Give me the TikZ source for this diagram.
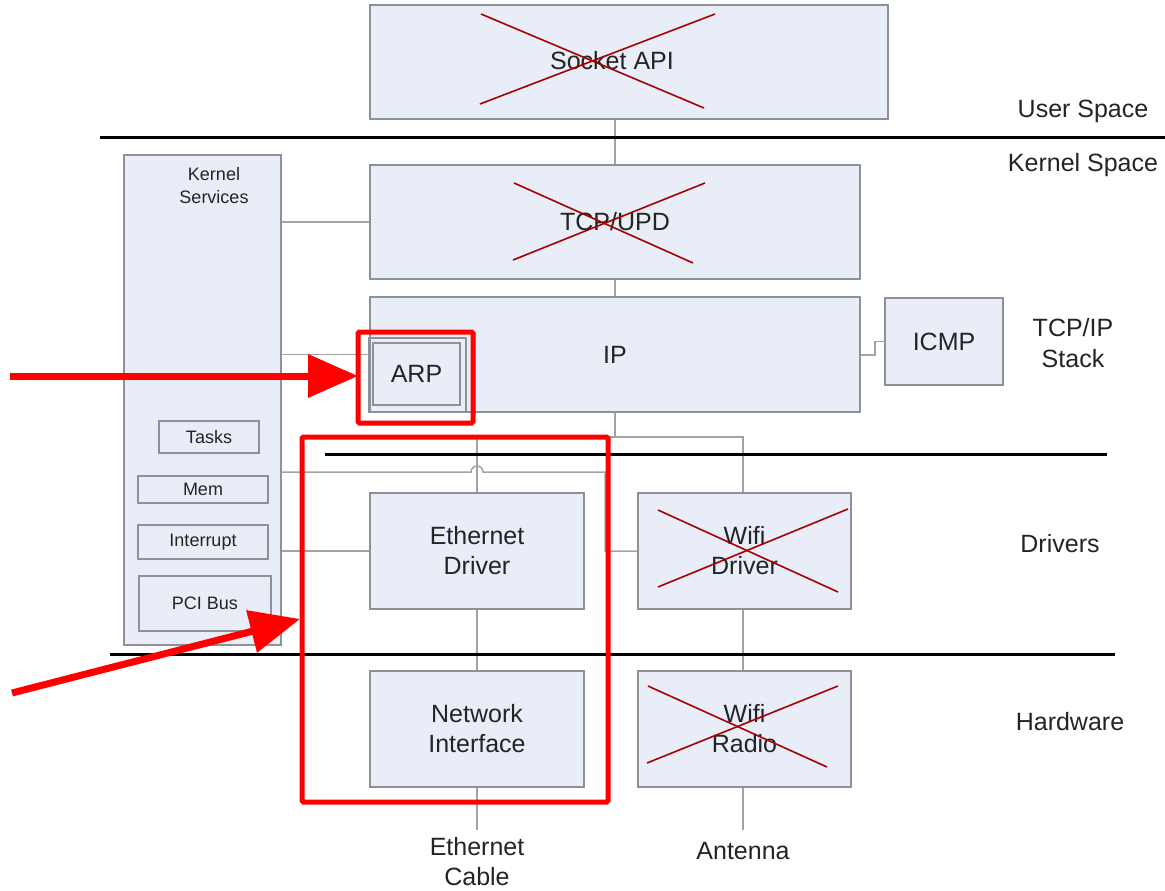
\documentclass[tikz,border=0pt]{standalone}
\usepackage{fontspec}
\setmainfont{Liberation Sans}
\usetikzlibrary{arrows.meta,calc}
\definecolor{boxfill}{HTML}{E8EDF7}
\definecolor{boxdraw}{HTML}{8E9197}
\definecolor{conncol}{HTML}{A3A3A3}
\definecolor{xred}{HTML}{A80000}
\definecolor{hred}{HTML}{FF0000}
\definecolor{txt}{HTML}{242424}
\begin{document}
\begin{tikzpicture}[x=1pt,y=-1pt,
 box/.style={draw=boxdraw, fill=boxfill, line width=1.6pt, inner sep=0pt, text=txt, font=\fontsize{25}{30}\selectfont, align=center},
 sbox/.style={box, font=\fontsize{18}{22}\selectfont},
 conn/.style={draw=conncol, line width=1.5pt},
 xline/.style={draw=xred, line width=1.6pt},
 sepline/.style={draw=black, line width=3pt},
 hl/.style={draw=hred, line width=5pt, rounded corners=1.5pt},
 harrow/.style={draw=hred, line width=7pt, -{Triangle[length=50pt,width=42pt]}},
 lab/.style={text=txt, font=\fontsize{25}{31}\selectfont, align=center, inner sep=0pt},
 slab/.style={lab, font=\fontsize{18}{23}\selectfont}]
\useasboundingbox[fill=white] (0,0) rectangle (1165,891);

% boxes
\node[box, minimum width=518pt, minimum height=114pt] (sock) at (629,62) {};
\node[lab] (socktxt) at (612,61) {Socket API};
\node[box, minimum width=490pt, minimum height=114pt] (tcp) at (615,222) {TCP/UPD};
\node[box, minimum width=490pt, minimum height=115pt] (ip) at (615,354.5) {IP};
\node[box, minimum width=118pt, minimum height=87pt] (icmp) at (944,341.5) {ICMP};
\node[draw=boxdraw, line width=1.2pt, minimum width=97pt, minimum height=74pt, inner sep=0pt] (arpo) at (417.5,375) {};
\node[box, minimum width=87pt, minimum height=62pt] (arp) at (416.5,374) {ARP};
\node[box, minimum width=157pt, minimum height=490pt] (ks) at (202.5,400) {};
\node[slab] (kstxt) at (214,186) {Kernel\\Services};
\node[sbox, minimum width=100pt, minimum height=32pt] (tasks) at (209,437) {Tasks};
\node[sbox, minimum width=130pt, minimum height=27pt] (mem) at (203,489.5) {Mem};
\node[sbox, minimum width=130pt, minimum height=34pt] (intr) at (203,542) {Interrupt};
\node[sbox, minimum width=132pt, minimum height=55pt] (pci) at (205,603.5) {PCI Bus};
\node[box, minimum width=214pt, minimum height=116pt] (eth) at (477,551) {Ethernet\\Driver};
\node[box, minimum width=214pt, minimum height=116pt] (nic) at (477,729) {Network\\Interface};
\node[box, minimum width=213pt, minimum height=116pt] (wdrv) at (744.5,551) {Wifi\\Driver};
\node[box, minimum width=213pt, minimum height=116pt] (wrad) at (744.5,729) {Wifi\\Radio};

% side labels
\node[lab] (us) at (1083,111) {User Space};
\node[lab] (ksp) at (1083,165) {Kernel Space};
\node[lab] (tcpip) at (1073,343) {TCP/IP\\Stack};
\node[lab] (drv) at (1060,544) {Drivers};
\node[lab] (hw) at (1070,722) {Hardware};
\node[lab, anchor=north, font=\fontsize{25}{30}\selectfont] (cable) at (477,837) {Ethernet\\Cable};
\node[lab, anchor=north] (ant) at (743,842) {Antenna};

% connectors
\coordinate (busL) at (477,437);
\coordinate (busR) at (743,437);
\coordinate (ic1) at (875,355);
\coordinate (hopL) at (471,472);
\coordinate (turn) at (605,472);
\coordinate (k3) at (281,472);
\coordinate (cableend) at (477,830);
\coordinate (antend) at (743,830);
\draw[conn] (tcp.north) -- (tcp.north |- sock.south);
\draw[conn] (tcp.south) -- (ip.north);
\draw[conn] (ip.east |- ic1) -- (ic1) -- (ic1 |- icmp.west) -- (icmp.west);
\draw[conn] (ip.south) -- (ip.south |- busL);
\draw[conn] (eth.north) -- (busL) -- (busR) -- (busR |- wdrv.north);
\draw[conn] (eth.south) -- (nic.north);
\draw[conn] (busR |- wdrv.south) -- (busR |- wrad.north);
\draw[conn] (nic.south) -- (cableend);
\draw[conn] (busR |- wrad.south) -- (antend);
\draw[conn] (ks.east |- tcp.west) -- (tcp.west);
\draw[conn] (ks.east |- ip.west) -- (ip.west);
\draw[conn] (ks.east |- eth.west) -- (eth.west);
\draw[conn] (k3) -- (hopL) arc[start angle=180, end angle=360, radius=6] -- (turn) -- (turn |- wdrv.west) -- (wdrv.west);

% crosses
\draw[xline] (481,14) -- (704,108);
\draw[xline] (480,104) -- (715,14);
\draw[xline] (514,183) -- (693,263);
\draw[xline] (513,260) -- (705,183);
\draw[xline] (658,510) -- (838,592);
\draw[xline] (658,587) -- (848,509);
\draw[xline] (648,686) -- (827,767);
\draw[xline] (647,763) -- (838,686);

% separators
\draw[sepline] (100,137) -- (1165,137);
\draw[sepline] (325,454) -- (1107,454);
\draw[sepline] (110,654) -- (1115,654);

% highlights
\draw[hl] (358,332) rectangle (473,423);
\draw[hl] (302,437) rectangle (608,802);
\coordinate (a1s) at (10,376);
\coordinate (a2s) at (12,693);
\draw[harrow] (a1s) -- (358,376);
\draw[harrow] (a2s) -- (300,619);
\end{tikzpicture}
\end{document}
